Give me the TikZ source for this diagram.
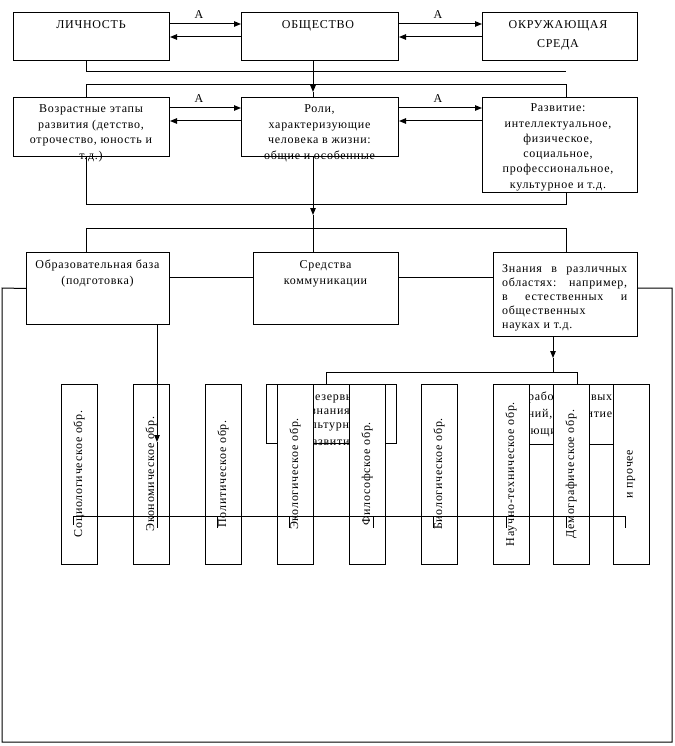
\documentclass[tikz,border=0pt]{standalone}
\usepackage{fontspec}
\newfontfamily\tf[LetterSpace=6]{Liberation Serif}
\usetikzlibrary{arrows.meta}
\newcommand\mkbox[5]{\node[box,minimum width=#4pt,minimum height=#5pt] (#1) at (#2,#3) {};}
\newcommand\tln[4]{\node[txt] (#1) at (#2,#3) {#4};}
\newcommand\tlw[4]{\node[txt,anchor=base west] (#1) at (#2,#3) {#4};}
\newcommand\vbx[3]{\node[box,minimum width=36pt,minimum height=180pt] (#1) at (#2,384) {};
  \node[vtxt] (#1t) at (#2+18,474) {#3};}
\begin{document}
\begin{tikzpicture}[x=1pt,y=-1pt,
  box/.style={draw, line width=1pt, fill=white, inner sep=0pt, anchor=north west},
  ln/.style={line width=1pt},
  arr/.style={line width=1pt, -{Triangle[length=7pt,width=5.5pt]}},
  txt/.style={font=\tf\fontsize{12}{15}\selectfont, inner sep=0pt, anchor=base},
  vtxt/.style={font=\tf\fontsize{12}{15}\selectfont, inner sep=0pt, rotate=90, anchor=center},
]
\useasboundingbox (0,0) rectangle (674,746);

% background connectors
\coordinate (t1) at (86,72);
\coordinate (t2) at (566,72);
\coordinate (r1) at (86,85);
\coordinate (r2) at (566,204);
\draw[ln] (r1) rectangle (r2);

% row 1
\mkbox{lich}{13}{12}{156}{48}
\mkbox{obsh}{241}{12}{157}{48}
\mkbox{okr}{482}{12}{155}{48}
\draw[ln] (lich.south -| t1) -- (t1) -- (t2);
\tln{tlich}{91}{29}{ЛИЧНОСТЬ}
\tln{tobsh}{318}{29}{ОБЩЕСТВО}
\tln{tokr1}{558}{29}{ОКРУЖАЮЩАЯ}
\tln{tokr2}{558}{48}{СРЕДА}
\draw[arr] ([yshift=-12pt]lich.north east) -- ([yshift=-12pt]obsh.north west);
\draw[arr] ([yshift=-25pt]obsh.north west) -- ([yshift=-25pt]lich.north east);
\draw[arr] ([yshift=-12pt]obsh.north east) -- ([yshift=-12pt]okr.north west);
\draw[arr] ([yshift=-25pt]okr.north west) -- ([yshift=-25pt]obsh.north east);
\tln{a1}{199}{19}{А}
\tln{a2}{438}{19}{А}

% row 2
\mkbox{vozr}{13}{97}{156}{59}
\mkbox{roli}{241}{97}{157}{59}
\mkbox{razv}{482}{97}{155}{95}
\coordinate (m1) at (313,92);
\draw[arr] (obsh.south -| m1) -- (m1);
\draw[ln] (m1) -- (roli.north -| m1);
\draw[arr] ([yshift=-11pt]vozr.north east) -- ([yshift=-11pt]roli.north west);
\draw[arr] ([yshift=-24pt]roli.north west) -- ([yshift=-24pt]vozr.north east);
\draw[arr] ([yshift=-11pt]roli.north east) -- ([yshift=-11pt]razv.north west);
\draw[arr] ([yshift=-24pt]razv.north west) -- ([yshift=-24pt]roli.north east);
\tln{a3}{199}{103}{А}
\tln{a4}{438}{103}{А}
\tln{tv1}{91}{113}{Возрастные этапы}
\tln{tv2}{91}{128.5}{развития (детство,}
\tln{tv3}{91}{144}{отрочество, юность и}
\tln{tv4}{91}{159.5}{т.д.)}
\tln{tr1}{319.5}{113}{Роли,}
\tln{tr2}{319.5}{128.5}{характеризующие}
\tln{tr3}{319.5}{144}{человека в жизни:}
\tln{tr4}{319.5}{159.5}{общие и особенные}
\tln{tz1}{558}{112}{Развитие:}
\tln{tz2}{558}{127.2}{интеллектуальное,}
\tln{tz3}{558}{142.4}{физическое,}
\tln{tz4}{558}{157.6}{социальное,}
\tln{tz5}{558}{172.8}{профессиональное,}
\tln{tz6}{558}{188}{культурное и т.д.}

% row 3
\coordinate (m2) at (313,215);
\coordinate (u1) at (86,228);
\coordinate (u2) at (566,228);
\mkbox{obraz}{26}{252}{143}{72}
\mkbox{sred}{253}{252}{145}{72}
\mkbox{znan}{493}{252}{144}{84}
\draw[arr] (roli.south -| m2) -- (m2);
\draw[ln] (m2) -- (sred.north -| m2);
\draw[ln] (obraz.north -| u1) -- (u1) -- (u2) -- (znan.north -| u2);
\draw[ln] ([yshift=-25pt]obraz.north east) -- ([yshift=-25pt]sred.north west);
\draw[ln] ([yshift=-25pt]sred.north east) -- ([yshift=-25pt]znan.north west);
\tln{to1}{97.5}{268}{Образовательная база}
\tln{to2}{97.5}{284}{(подготовка)}
\tln{ts1}{325.5}{268}{Средства}
\tln{ts2}{325.5}{284}{коммуникации}
\tlw{tk1}{502}{272}{\makebox[125pt][s]{Знания в различных}}
\tlw{tk2}{502}{286}{\makebox[125pt][s]{областях: например,}}
\tlw{tk3}{502}{300}{\makebox[125pt][s]{в естественных и}}
\tlw{tk4}{502}{314}{общественных}
\tlw{tk5}{502}{328}{науках и т.д.}

% outer frame
\coordinate (f1) at (2,288);
\coordinate (f2) at (2,742);
\coordinate (f3) at (672,742);
\coordinate (f4) at (672,288);
\draw[ln] (obraz.west) -- (f1) -- (f2) -- (f3) -- (f4) -- (f4 -| znan.east);

% hidden boxes
\coordinate (z1) at (553,358);
\coordinate (z2) at (553,372);
\coordinate (hA) at (326,372);
\coordinate (hB) at (577,372);
\mkbox{boxA}{266}{384}{130}{59}
\mkbox{boxB}{500}{384}{125}{60}
\draw[arr] (znan.south -| z1) -- (z1);
\draw[ln] (z1) -- (z2);
\draw[ln] (boxA.north -| hA) -- (hA) -- (hB) -- (boxB.north -| hB);
\tln{ta1}{331}{400}{Резервы}
\tln{ta2}{331}{414}{в знаниях,}
\tln{ta3}{331}{428}{культурном}
\tln{ta4}{331}{445}{развитии}
\tlw{tb1}{509}{400}{\makebox[103pt][s]{Разработка новых}}
\tlw{tb2}{509}{417}{\makebox[103pt][s]{знаний, развитие}}
\tlw{tb3}{509}{434}{имеющихся}

% vertical boxes
\vbx{v1}{61}{Социологическое обр.}
\vbx{v2}{133}{Экономическое обр.}
\vbx{v3}{205}{Политическое обр.}
\vbx{v4}{277}{Экологическое обр.}
\vbx{v5}{349}{Философское обр.}
\vbx{v6}{421}{Биологическое обр.}
\vbx{v7}{493}{Научно-техническое обр.}
\vbx{v8}{553}{Демографическое обр.}
\vbx{v9}{613}{и прочее}

% arrow from education base and comb line
\coordinate (o1) at (157,442);
\coordinate (o2) at (157,528);
\draw[arr] (obraz.south -| o1) -- (o1);
\draw[ln] (o1) -- (o2);
\coordinate (c0) at (73,516);
\coordinate (c9) at (625,516);
\draw[ln] (73,525) -- (c0) -- (c9) -- (625,528);
\foreach \xx in {217,289,373,433,506,566}
  \draw[ln] (\xx,516) -- (\xx,528);
\end{tikzpicture}
\end{document}
